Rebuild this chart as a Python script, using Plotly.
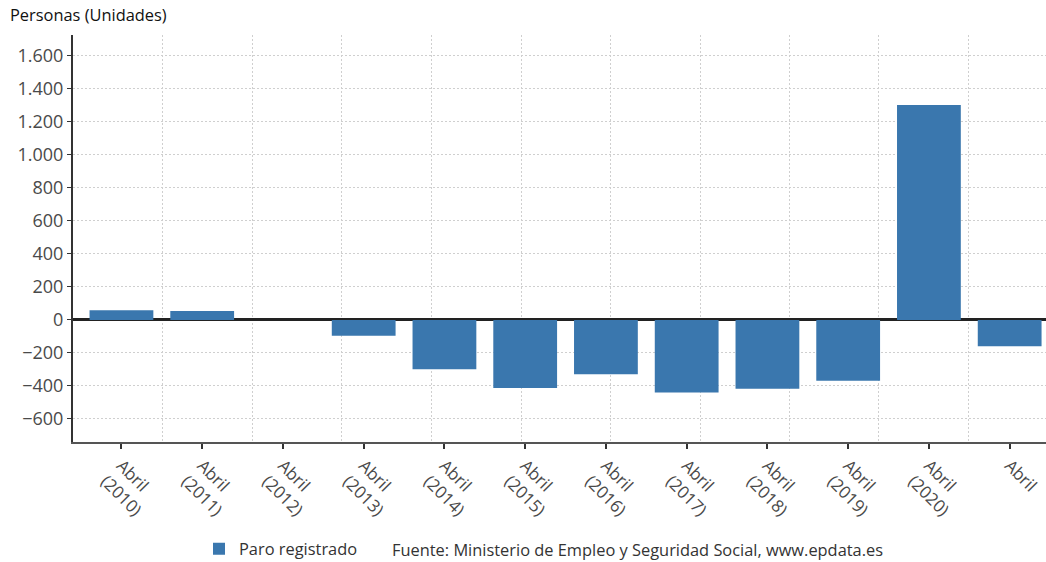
import plotly.graph_objects as go

categories = ["Abril<br>(2010)", "Abril<br>(2011)", "Abril<br>(2012)", "Abril<br>(2013)",
              "Abril<br>(2014)", "Abril<br>(2015)", "Abril<br>(2016)", "Abril<br>(2017)",
              "Abril<br>(2018)", "Abril<br>(2019)", "Abril<br>(2020)", "Abril"]
values = [58, 54, 0, -96, -299, -413, -329, -440, -417, -369, 1303, -160]
y_ticks = [-600, -400, -200, 0, 200, 400, 600, 800, 1000, 1200, 1400, 1600]
grid_x = [0.51, 1.62, 2.73, 3.84, 4.95, 6.06, 7.17, 8.27, 9.38, 10.49]

FONT = "Open Sans"
BAR = "#3a77ae"
xr = [-0.6, 11.45]

fig = go.Figure()
fig.add_trace(go.Bar(x=list(range(len(categories))), y=values, name="Paro registrado",
                     marker=dict(color=BAR, line=dict(width=0)), width=0.79))
# invisible trace to activate the grid axis
fig.add_trace(go.Scatter(x=[xr[0]], y=[0], xaxis="x2", mode="markers",
                         marker=dict(opacity=0), showlegend=False, hoverinfo="skip"))

fig.update_layout(
    width=1046, height=562,
    margin=dict(l=73, r=0, t=35, b=120, autoexpand=False),
    paper_bgcolor="white", plot_bgcolor="white",
    separators=",.",
    font=dict(family=FONT, color="#555"),
    title=dict(text="Personas (Unidades)", x=10/1046, xanchor="left", xref="container",
               y=1-15/562, yanchor="middle", yref="container",
               font=dict(family=FONT, size=16.4, color="#111")),
    xaxis=dict(type="linear", range=xr, tickmode="array", automargin=False,
               tickvals=list(range(len(categories))), ticktext=categories,
               tickangle=45, showgrid=False, zeroline=False,
               showline=True, linecolor="#555", linewidth=2,
               ticks="outside", ticklen=5, tickcolor="#333", tickwidth=2,
               tickfont=dict(family=FONT, size=17, color="#4a4a4a")),
    xaxis2=dict(overlaying="x", range=xr, tickmode="array", tickvals=grid_x,
                showticklabels=False, showgrid=True, gridcolor="#cfcfcf",
                griddash="2px,2px", gridwidth=1, zeroline=False, showline=False,
                ticks="", automargin=False),
    yaxis=dict(range=[-740, 1727], tickmode="array", tickvals=y_ticks, automargin=False,
               tickformat=",d", showgrid=True, gridcolor="#cfcfcf", griddash="2px,2px",
               gridwidth=1, zeroline=True, zerolinecolor="#222", zerolinewidth=2.5,
               showline=True, linecolor="#333", linewidth=2,
               ticks="outside", ticklen=4, tickcolor="#333",
               tickfont=dict(family=FONT, size=18, color="#4a4a4a")),
    showlegend=True,
    legend=dict(orientation="h", xref="container", yref="container",
                x=199/1046, xanchor="left", y=1-549/562, yanchor="middle",
                font=dict(family=FONT, size=16.4, color="#333"),
                bgcolor="rgba(0,0,0,0)"),
    bargap=0.21,
)
fig.add_annotation(text="Fuente: Ministerio de Empleo y Seguridad Social, www.epdata.es",
                   xref="paper", yref="paper", x=(390-73)/973, y=(442-549)/407,
                   xanchor="left", yanchor="middle", showarrow=False,
                   font=dict(family=FONT, size=16.4, color="#333"))

fig.write_html("out.html", post_script="document.body.style.margin='0';",
               config={"displayModeBar": False})
